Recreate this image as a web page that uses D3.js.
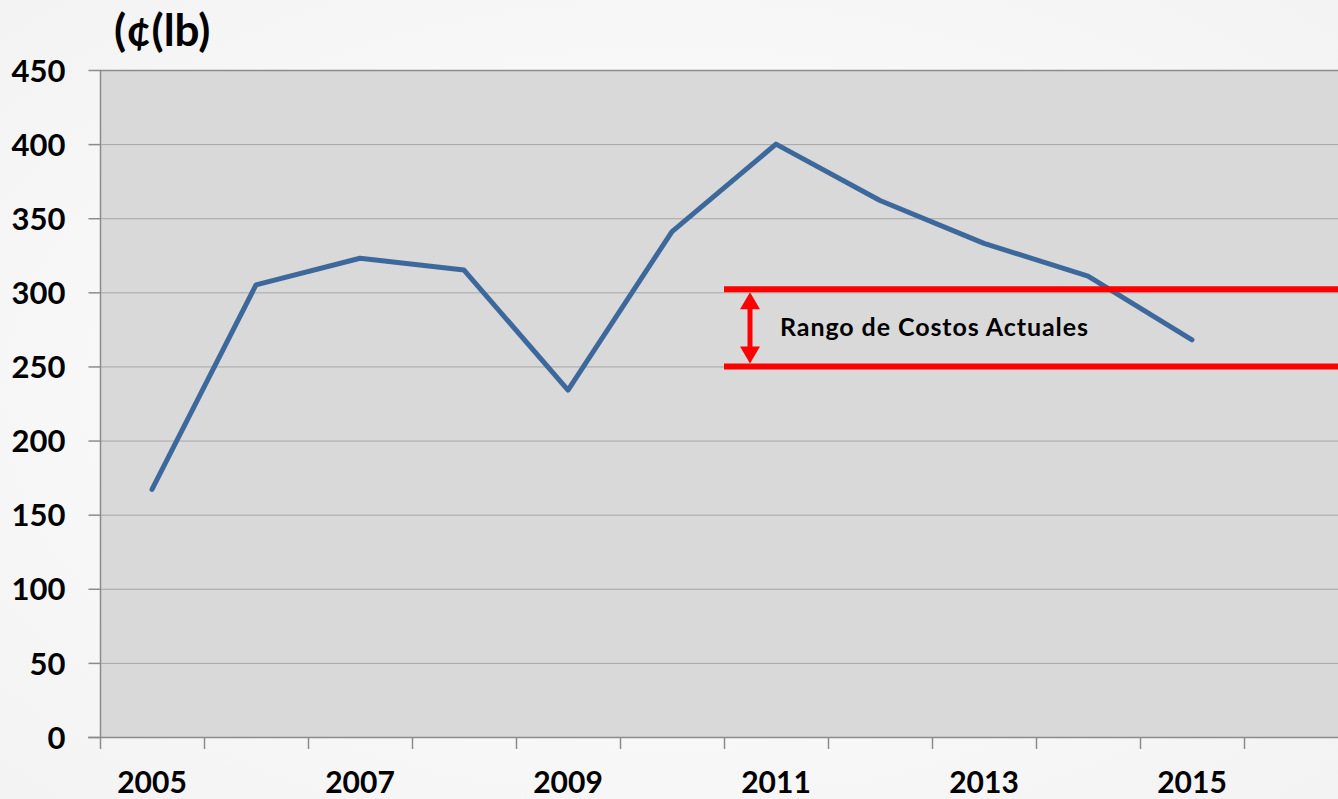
<!DOCTYPE html>
<html><head><meta charset="utf-8">
<script src="https://cdn.jsdelivr.net/npm/d3@7"></script>
<style>
html,body{margin:0;padding:0;background:#fbfbfb;overflow:hidden;}
svg{display:block;}
</style></head>
<body>
<svg id="c" width="1338" height="799"></svg>
<script>
const categories = ["2005","2006","2007","2008","2009","2010","2011","2012","2013","2014","2015","2016"];
const seriesYears = ["2005","2006","2007","2008","2009","2010","2011","2012","2013","2014","2015"];
const seriesValues = [167, 305, 323, 315, 234, 341, 400, 362, 333, 311, 268];
const xTickLabels = ["2005","2007","2009","2011","2013","2015"];
const yTicks = [0,50,100,150,200,250,300,350,400,450];
const rangeBounds = [250, 302];
const rangeStart = "2011";
const rangeLabel = "Rango de Costos Actuales";
const unitLabel = "(¢(lb)";

const svg = d3.select("#c");
const W = 1338, H = 799;
const m = {left:100};
const plotRight = 1348;
const x = d3.scaleBand().domain(categories).range([m.left, plotRight]).padding(0);
const y = d3.scaleLinear().domain([0,450]).range([737, 70]);
const font = "Lato, 'Open Sans', sans-serif";

const defs = svg.append("defs");
const rg = defs.append("radialGradient").attr("id","bg").attr("cx","50%").attr("cy","50%").attr("r","75%");
rg.append("stop").attr("offset","0%").attr("stop-color","#ffffff");
rg.append("stop").attr("offset","100%").attr("stop-color","#f2f2f2");
svg.append("rect").attr("width",W).attr("height",H).attr("fill","url(#bg)");

svg.append("rect").attr("x",m.left).attr("y",y(450)).attr("width",plotRight-m.left).attr("height",y(0)-y(450)).attr("fill","#d9d9d9");

svg.append("g").selectAll("line").data(yTicks.filter(d=>d>0)).join("line")
  .attr("x1",m.left).attr("x2",plotRight).attr("y1",d=>y(d)+0.5).attr("y2",d=>y(d)+0.5)
  .attr("stroke",d=>d===450?"#8c8c8c":"#a6a6a6").attr("stroke-width",d=>d===450?1.5:1);

const yAxis = d3.axisLeft(y).tickValues(yTicks).tickSize(12).tickPadding(23);
const gy = svg.append("g").attr("transform",`translate(${m.left+0.5},0)`).call(yAxis);
gy.select(".domain").attr("stroke","#8c8c8c").attr("stroke-width",1.5).attr("d",`M0,${y(450)}V${y(0)}`);
gy.selectAll(".tick line").attr("stroke","#8c8c8c").attr("stroke-width",1.5);
gy.selectAll(".tick text").attr("font-family",font).attr("font-weight","bold").attr("font-size",31).attr("fill","#000").attr("dy","0.36em");

const edges = categories.map(c=>x(c)).concat([plotRight]);
const gx = svg.append("g");
gx.append("line").attr("x1",m.left-12).attr("x2",plotRight).attr("y1",y(0)+0.5).attr("y2",y(0)+0.5).attr("stroke","#8c8c8c").attr("stroke-width",1.5);
gx.selectAll("line.t").data(edges).join("line").attr("class","t")
  .attr("x1",d=>d+0.5).attr("x2",d=>d+0.5).attr("y1",y(0)).attr("y2",y(0)+12)
  .attr("stroke","#8c8c8c").attr("stroke-width",1.5);
gx.selectAll("text").data(xTickLabels).join("text")
  .attr("x",d=>x(d)+x.bandwidth()/2).attr("y",793)
  .attr("text-anchor","middle").attr("font-family",font).attr("font-weight","bold").attr("font-size",30).attr("fill","#000")
  .text(d=>d);

svg.append("text").attr("x",114).attr("y",46).attr("font-family",font).attr("font-weight","bold").attr("font-size",44).attr("fill","#000").text(unitLabel);

const line = d3.line().x((d,i)=>x(seriesYears[i])+x.bandwidth()/2).y(d=>y(d));
svg.append("path").datum(seriesValues).attr("d",line).attr("fill","none")
  .attr("stroke","#3d689c").attr("stroke-width",5).attr("stroke-linecap","round").attr("stroke-linejoin","round");

const rx0 = x(rangeStart);
svg.append("g").selectAll("line").data(rangeBounds).join("line")
  .attr("x1",rx0).attr("x2",W).attr("y1",d=>y(d)).attr("y2",d=>y(d))
  .attr("stroke","#ff0000").attr("stroke-width",6);

const ax = rx0 + 26;
const yTop = y(rangeBounds[1]) + 3, yBot = y(rangeBounds[0]) - 3;
svg.append("line").attr("x1",ax).attr("x2",ax).attr("y1",yTop+14).attr("y2",yBot-14).attr("stroke","#ff0000").attr("stroke-width",5);
svg.append("path").attr("d",`M${ax},${yTop} L${ax-10},${yTop+17} L${ax+10},${yTop+17} Z`).attr("fill","#ff0000");
svg.append("path").attr("d",`M${ax},${yBot} L${ax-10},${yBot-17} L${ax+10},${yBot-17} Z`).attr("fill","#ff0000");

svg.append("text").attr("x",780).attr("y",336).attr("font-family",font).attr("font-weight","bold").attr("font-size",25).attr("fill","#000")
  .attr("textLength",308).attr("lengthAdjust","spacing").text(rangeLabel);
</script>
</body></html>
